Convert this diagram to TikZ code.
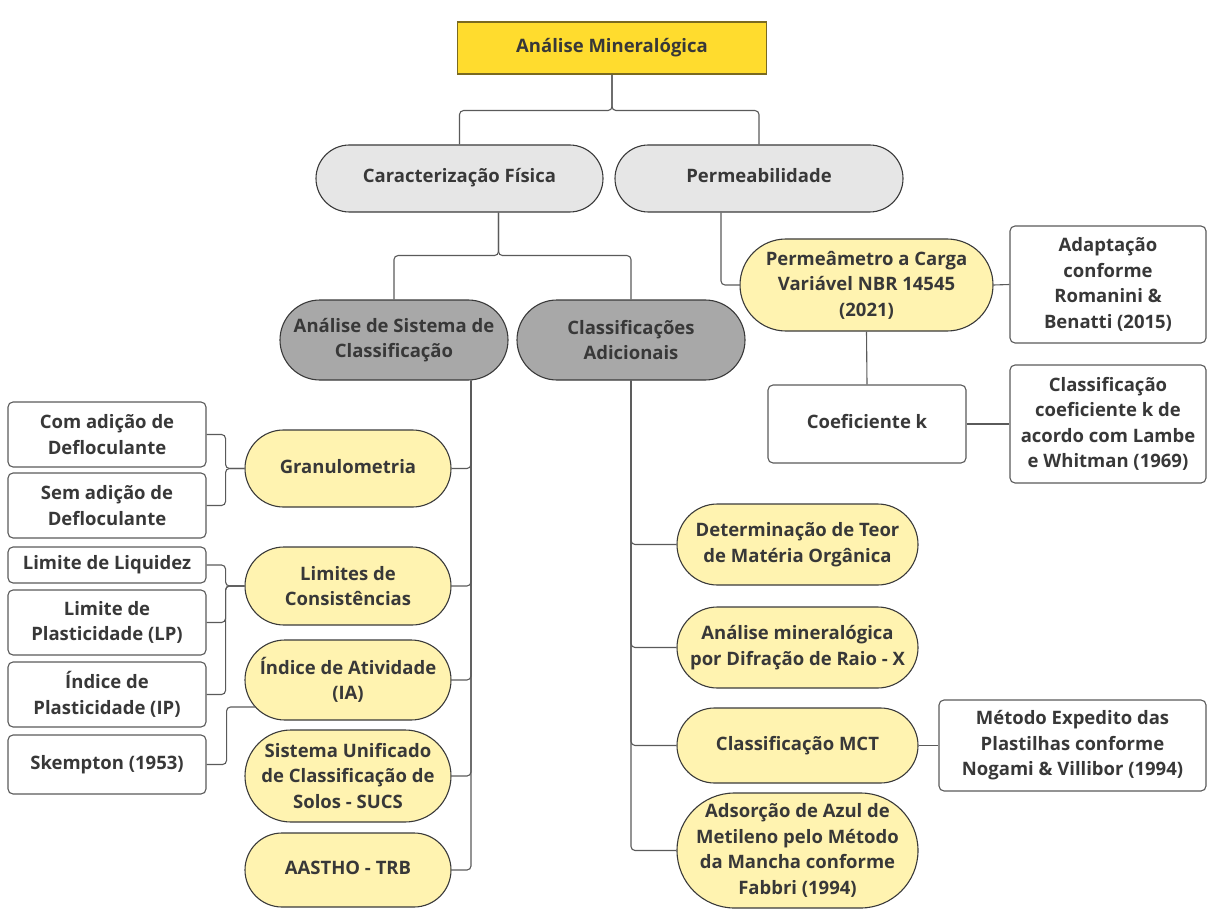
\documentclass[tikz,border=0pt]{standalone}
\usepackage{fontspec}
\setmainfont{Open Sans}
\usetikzlibrary{calc}

\definecolor{ouro}{HTML}{FFDC2E}
\definecolor{ourobor}{HTML}{7A6A20}
\definecolor{amarelo}{HTML}{FFF3B0}
\definecolor{cinzaclaro}{HTML}{E6E6E6}
\definecolor{cinzaescuro}{HTML}{A8A8A8}
\definecolor{borda}{HTML}{3A3A3A}
\definecolor{linha}{HTML}{5A5A5A}
\definecolor{texto}{HTML}{383838}

\tikzset{
  base/.style={font=\bfseries\fontsize{18.5}{25.5}\selectfont, text=texto, align=center, inner sep=1pt, line width=1.1pt},
  uma/.style={text height=14pt, text depth=5pt},
  tam/.style 2 args={minimum width=#1pt, minimum height=#2pt},
  pilula/.style 2 args={tam={#1}{#2}, rounded corners=#2pt/2},
  topo/.style={base, uma, rectangle, fill=ouro, draw=ourobor},
  grupo/.style={base, fill=cinzaclaro, draw=borda},
  subgrupo/.style={base, fill=cinzaescuro, draw=borda},
  ensaio/.style={base, fill=amarelo, draw=borda},
  nota/.style={base, rounded corners=5pt, fill=white, draw=linha},
  liga/.style={draw=linha, line width=1.1pt, rounded corners=4pt},
}

\begin{document}
\begin{tikzpicture}[x=1pt,y=-1pt]
\useasboundingbox (0,0) rectangle (1207,909);

\node[topo, tam={309}{52}] (topo) at (612,48) {Análise Mineralógica};

\node[grupo, uma, pilula={287}{67}] (caract) at (459.5,178.5) {Caracterização Física};
\node[grupo, uma, pilula={288}{67}] (perm) at (759,178.5) {Permeabilidade};

\node[subgrupo, pilula={228}{80}] (sistema) at (394,340) {Análise de Sistema de\\Classificação};
\node[subgrupo, pilula={228}{80}] (adic) at (631,340) {Classificações\\Adicionais};

% permeabilidade
\node[ensaio, pilula={253}{92}] (permet) at (866.5,285) {Permeâmetro a Carga\\Variável NBR 14545\\(2021)};
\node[nota, tam={196}{117}] (adapt) at (1108,284.5) {Adaptação\\conforme\\Romanini \&\\Benatti (2015)};
\node[nota, uma, tam={198}{78}] (coefk) at (867,424) {Coeficiente k};
\node[nota, tam={196}{118}] (classk) at (1108,424) {Classificação\\coeficiente k de\\acordo com Lambe\\e Whitman (1969)};

% sistema de classificacao
\node[ensaio, uma, pilula={206}{77}] (gran) at (348,468.5) {Granulometria};
\node[ensaio, pilula={206}{78}] (lim) at (348,586) {Limites de\\Consistências};
\node[ensaio, pilula={206}{80}] (ia) at (348,680) {Índice de Atividade\\(IA)};
\node[ensaio, pilula={206}{92}] (sucs) at (348,776) {Sistema Unificado\\de Classificação de\\Solos - SUCS};
\node[ensaio, uma, pilula={206}{74}] (aas) at (348,870) {AASTHO - TRB};

\node[nota, tam={198}{65}] (com) at (107,434.5) {Com adição de\\Defloculante};
\node[nota, tam={198}{65}] (sem) at (107,505.5) {Sem adição de\\Defloculante};
\node[nota, uma, tam={198}{36}] (liq) at (107,565) {Limite de Liquidez};
\node[nota, tam={198}{65}] (lp) at (107,622.5) {Limite de\\Plasticidade (LP)};
\node[nota, tam={198}{65}] (ip) at (107,694.5) {Índice de\\Plasticidade (IP)};
\node[nota, uma, tam={198}{59}] (skem) at (107,764.5) {Skempton (1953)};

% classificacoes adicionais
\node[ensaio, pilula={241}{81}] (det) at (797.5,544.5) {Determinação de Teor\\de Matéria Orgânica};
\node[ensaio, pilula={241}{81}] (drx) at (797.5,647.5) {Análise mineralógica\\por Difração de Raio - X};
\node[ensaio, uma, pilula={241}{75}] (mct) at (797.5,745.5) {Classificação MCT};
\node[ensaio, pilula={241}{115}] (azul) at (797.5,850.5) {Adsorção de Azul de\\Metileno pelo Método\\da Mancha conforme\\Fabbri (1994)};
\node[nota, tam={267}{91}] (metodo) at (1072.5,745.5) {Método Expedito das\\Plastilhas conforme\\Nogami \& Villibor (1994)};

% ligacoes
\foreach \n in {caract,perm}
  \draw[liga] (topo.south) -- ++(0,36) -| (\n.north);
\foreach \n in {sistema,adic}
  \draw[liga] ($(caract.south)+(39,0)$) -- ++(0,43) -| (\n.north);
\draw[liga] ($(perm.south)+(-38,0)$) |- (permet.west);
\draw[liga] (permet.east) -- (adapt.west);
\draw[liga] (permet.south) -- (coefk.north);
\draw[liga] (coefk.east) -- (classk.west);

\coordinate (tronco) at ($(sistema.south)+(77,0)$);
\foreach \n in {gran,lim,ia,sucs,aas}
  \draw[liga] (tronco) |- (\n.east);
\foreach \n in {com,sem}
  \draw[liga] (\n.east) -- ++(19,0) |- (gran.west);
\foreach \n in {liq,lp,ip}
  \draw[liga] (\n.east) -- ++(19,0) |- (lim.west);
\draw[liga] (skem.east) -- ++(20,0) |- ($(ia.center)+(-93,27)$);

\foreach \n in {det,drx,mct,azul}
  \draw[liga] (adic.south) |- (\n.west);
\draw[liga] (mct.east) -- (metodo.west);
\end{tikzpicture}
\end{document}
